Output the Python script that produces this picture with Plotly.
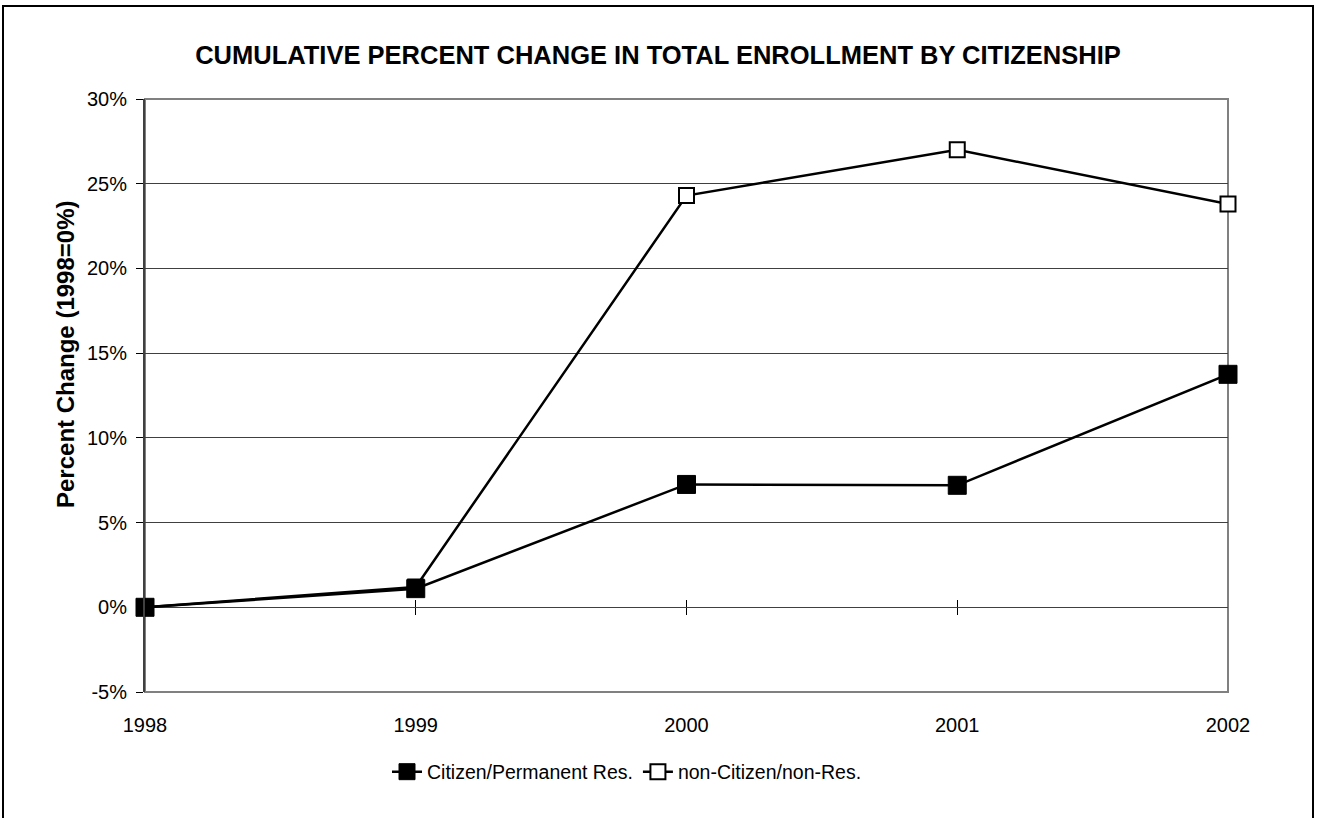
import plotly.graph_objects as go

years = [1998, 1999, 2000, 2001, 2002]
citizen = [0.0, 1.1, 7.25, 7.2, 13.75]
noncitizen = [0.0, 1.2, 24.3, 27.0, 23.8]
y_ticks = [-5, 0, 5, 10, 15, 20, 25, 30]
y_labels = [f"{v}%" for v in y_ticks]
title = "CUMULATIVE PERCENT CHANGE IN TOTAL ENROLLMENT BY CITIZENSHIP"
ytitle = "Percent Change (1998=0%)"
name_c = "Citizen/Permanent Res."
name_n = "non-Citizen/non-Res."

FONT = "Liberation Sans, Arial, sans-serif"
W, H = 1319, 818
L, R, T, B = 145, 91, 99, 126
pw, ph = W - L - R, H - T - B

fig = go.Figure()
fig.add_trace(go.Scatter(
    x=years, y=noncitizen, name=name_n, mode="lines+markers",
    line=dict(color="black", width=2.5),
    marker=dict(symbol="square", size=15, color="white", line=dict(color="black", width=2)),
    cliponaxis=False, legendrank=2))
fig.add_trace(go.Scatter(
    x=years, y=citizen, name=name_c, mode="lines+markers",
    line=dict(color="black", width=2.5),
    marker=dict(symbol="square", size=18, color="black", line=dict(color="black", width=1)),
    cliponaxis=False, legendrank=1))

zero_pos = (0 - y_ticks[0]) / (y_ticks[-1] - y_ticks[0])

fig.update_layout(
    width=W, height=H,
    margin=dict(l=L, r=R, t=T, b=B),
    paper_bgcolor="white", plot_bgcolor="white",
    font=dict(family=FONT, size=20, color="black"),
    title=dict(text=title, x=(658 - L) / pw, xref="paper", xanchor="center",
               y=1 - 55 / H, yanchor="middle",
               font=dict(family=FONT, size=25.5, color="black", weight="bold")),
    showlegend=True,
    legend=dict(orientation="h", x=(627 - L) / pw, xanchor="center",
                y=-(772 - (H - B)) / ph, yanchor="middle",
                font=dict(family=FONT, size=19.5, color="black"),
                bgcolor="rgba(0,0,0,0)", itemclick=False),
    xaxis=dict(range=[years[0], years[-1]], tickvals=years, ticktext=[str(y) for y in years],
               showgrid=False, zeroline=False, showline=False,
               ticks="outside", ticklen=15, tickcolor="rgba(0,0,0,0)",
               tickfont=dict(family=FONT, size=20, color="black")),
    xaxis2=dict(range=[years[0], years[-1]], tickvals=years[1:-1], showticklabels=False,
                overlaying="x", anchor="free", position=zero_pos, side="bottom",
                ticks="outside", ticklen=7, tickcolor="black", tickwidth=1,
                showgrid=False, zeroline=False, showline=False),
    xaxis3=dict(range=[years[0], years[-1]], tickvals=years[1:-1], showticklabels=False,
                overlaying="x", anchor="free", position=zero_pos, side="top",
                ticks="outside", ticklen=7, tickcolor="black", tickwidth=1,
                showgrid=False, zeroline=False, showline=False),
    yaxis=dict(range=[y_ticks[0], y_ticks[-1]], tickvals=y_ticks, ticktext=y_labels,
               showgrid=True, gridcolor="#404040", gridwidth=1,
               zeroline=True, zerolinecolor="#404040", zerolinewidth=1,
               showline=True, linecolor="#404040", linewidth=2,
               ticks="outside", ticklen=7, tickcolor="black",
               ticklabelstandoff=5,
               tickfont=dict(family=FONT, size=20, color="black")),
)

# y-axis title (Excel places it centred near the 15% level)
fig.add_annotation(text=f"<b>{ytitle}</b>", textangle=-90, showarrow=False,
                   xref="paper", yref="paper",
                   x=(65 - L) / pw, y=((H - B) - 355) / ph,
                   xanchor="center", yanchor="middle",
                   font=dict(family=FONT, size=24, color="black"))

# plot area border (gray) and outer chart frame
fig.add_shape(type="rect", xref="paper", yref="paper", x0=0, x1=1, y0=0, y1=1,
              line=dict(color="#808080", width=2), layer="below")
fig.add_shape(type="rect", xref="paper", yref="paper",
              x0=(3 - L) / pw, x1=(1313 - L) / pw,
              y0=-(H + 20 - (H - B)) / ph, y1=1 + (T - 6) / ph,
              line=dict(color="black", width=2), layer="below")

# invisible helper traces so the zero-line tick axes render
fig.add_trace(go.Scatter(x=[years[0]], y=[0], xaxis="x2", mode="markers",
                         marker=dict(opacity=0), showlegend=False, hoverinfo="skip"))
fig.add_trace(go.Scatter(x=[years[0]], y=[0], xaxis="x3", mode="markers",
                         marker=dict(opacity=0), showlegend=False, hoverinfo="skip"))

fig.write_html("out.html", config={"displayModeBar": False},
               post_script="document.body.style.margin='0';document.body.style.overflow='hidden';")
